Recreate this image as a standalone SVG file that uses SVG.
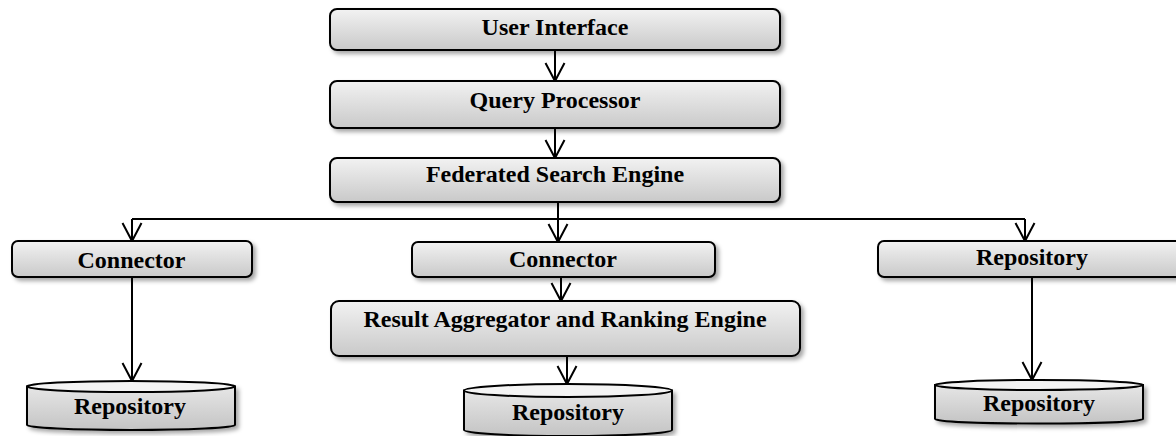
<svg xmlns="http://www.w3.org/2000/svg" width="1176" height="436" viewBox="0 0 1176 436">
  <defs>
    <linearGradient id="boxFill" x1="0" y1="0" x2="0" y2="1">
      <stop offset="0" stop-color="#f2f2f2"/>
      <stop offset="1" stop-color="#c9c9c9"/>
    </linearGradient>
    <linearGradient id="drumFill" x1="0" y1="0" x2="0" y2="1">
      <stop offset="0" stop-color="#e6e6e6"/>
      <stop offset="1" stop-color="#c4c4c4"/>
    </linearGradient>
    <filter id="shadow" x="-5%" y="-20%" width="115%" height="160%">
      <feDropShadow dx="3" dy="3" stdDeviation="2" flood-color="#000" flood-opacity="0.35"/>
    </filter>
    <marker id="vee" markerUnits="userSpaceOnUse" markerWidth="22" markerHeight="24" viewBox="-1 -11 22 22" refX="18" refY="0" orient="auto">
      <path d="M0,-9.5 L18,0 L0,9.5" fill="none" stroke="#000" stroke-width="2"/>
    </marker>
    <style>
      .box { fill: url(#boxFill); stroke: #000; stroke-width: 2; filter: url(#shadow); }
      .drum { fill: url(#drumFill); stroke: #000; stroke-width: 2; filter: url(#shadow); }
      .lid { fill: #f4f4f4; stroke: #000; stroke-width: 2; }
      .lbl { font-family: "Liberation Serif", "Times New Roman", serif; font-weight: bold; font-size: 24px; fill: #000; text-anchor: middle; }
      .wire { fill: none; stroke: #000; stroke-width: 2; }
      .arrow { fill: none; stroke: #000; stroke-width: 2; marker-end: url(#vee); }
    </style>
  </defs>

  <rect width="1176" height="436" fill="#fff"/>

  <g id="connectors">
    <line class="arrow" x1="555" y1="50" x2="555" y2="81"/>
    <line class="arrow" x1="555" y1="128" x2="555" y2="158"/>
    <line class="wire" x1="558" y1="202" x2="558" y2="219"/>
    <line class="wire" x1="132" y1="219" x2="1025" y2="219"/>
    <line class="arrow" x1="132" y1="219" x2="132" y2="241"/>
    <line class="arrow" x1="558" y1="219" x2="558" y2="242"/>
    <line class="arrow" x1="1025" y1="219" x2="1025" y2="241"/>
    <line class="arrow" x1="132" y1="277" x2="132" y2="381"/>
    <line class="arrow" x1="561" y1="277" x2="561" y2="301"/>
    <line class="arrow" x1="567" y1="356" x2="567" y2="384"/>
    <line class="arrow" x1="1032" y1="277" x2="1032" y2="380"/>
  </g>

  <g id="user-interface">
    <rect class="box" x="330" y="9" width="450" height="41" rx="7"/>
    <text class="lbl" x="555" y="35">User Interface</text>
  </g>

  <g id="query-processor">
    <rect class="box" x="330" y="81" width="450" height="47" rx="7"/>
    <text class="lbl" x="555" y="108">Query Processor</text>
  </g>

  <g id="federated-search-engine">
    <rect class="box" x="330" y="158" width="450" height="44" rx="7"/>
    <text class="lbl" x="555" y="182">Federated Search Engine</text>
  </g>

  <g id="connector-left">
    <rect class="box" x="12" y="241" width="240" height="36" rx="6"/>
    <text class="lbl" x="131.5" y="268">Connector</text>
  </g>

  <g id="connector-middle">
    <rect class="box" x="412" y="242" width="303" height="35" rx="6"/>
    <text class="lbl" x="563" y="267">Connector</text>
  </g>

  <g id="repository-box-right">
    <rect class="box" x="878" y="241" width="308" height="36" rx="6"/>
    <text class="lbl" x="1032" y="265">Repository</text>
  </g>

  <g id="result-aggregator">
    <rect class="box" x="331" y="301" width="469" height="55" rx="8"/>
    <text class="lbl" x="565" y="327">Result Aggregator and Ranking Engine</text>
  </g>

  <g id="repository-left">
    <path class="drum" d="M27,386.5 L27,425 A104,5 0 0 0 235,425 L235,386.5 Z"/>
    <ellipse class="lid" cx="131" cy="386.5" rx="104" ry="5.5"/>
    <text class="lbl" x="130" y="414">Repository</text>
  </g>

  <g id="repository-middle">
    <path class="drum" d="M464,390.5 L464,430 A104,6 0 0 0 672,430 L672,390.5 Z"/>
    <ellipse class="lid" cx="568" cy="390.5" rx="104" ry="6.5"/>
    <text class="lbl" x="568" y="420">Repository</text>
  </g>

  <g id="repository-right">
    <path class="drum" d="M935,385 L935,419 A104,4.5 0 0 0 1143,419 L1143,385 Z"/>
    <ellipse class="lid" cx="1039" cy="385" rx="104" ry="5"/>
    <text class="lbl" x="1039" y="411">Repository</text>
  </g>
</svg>
